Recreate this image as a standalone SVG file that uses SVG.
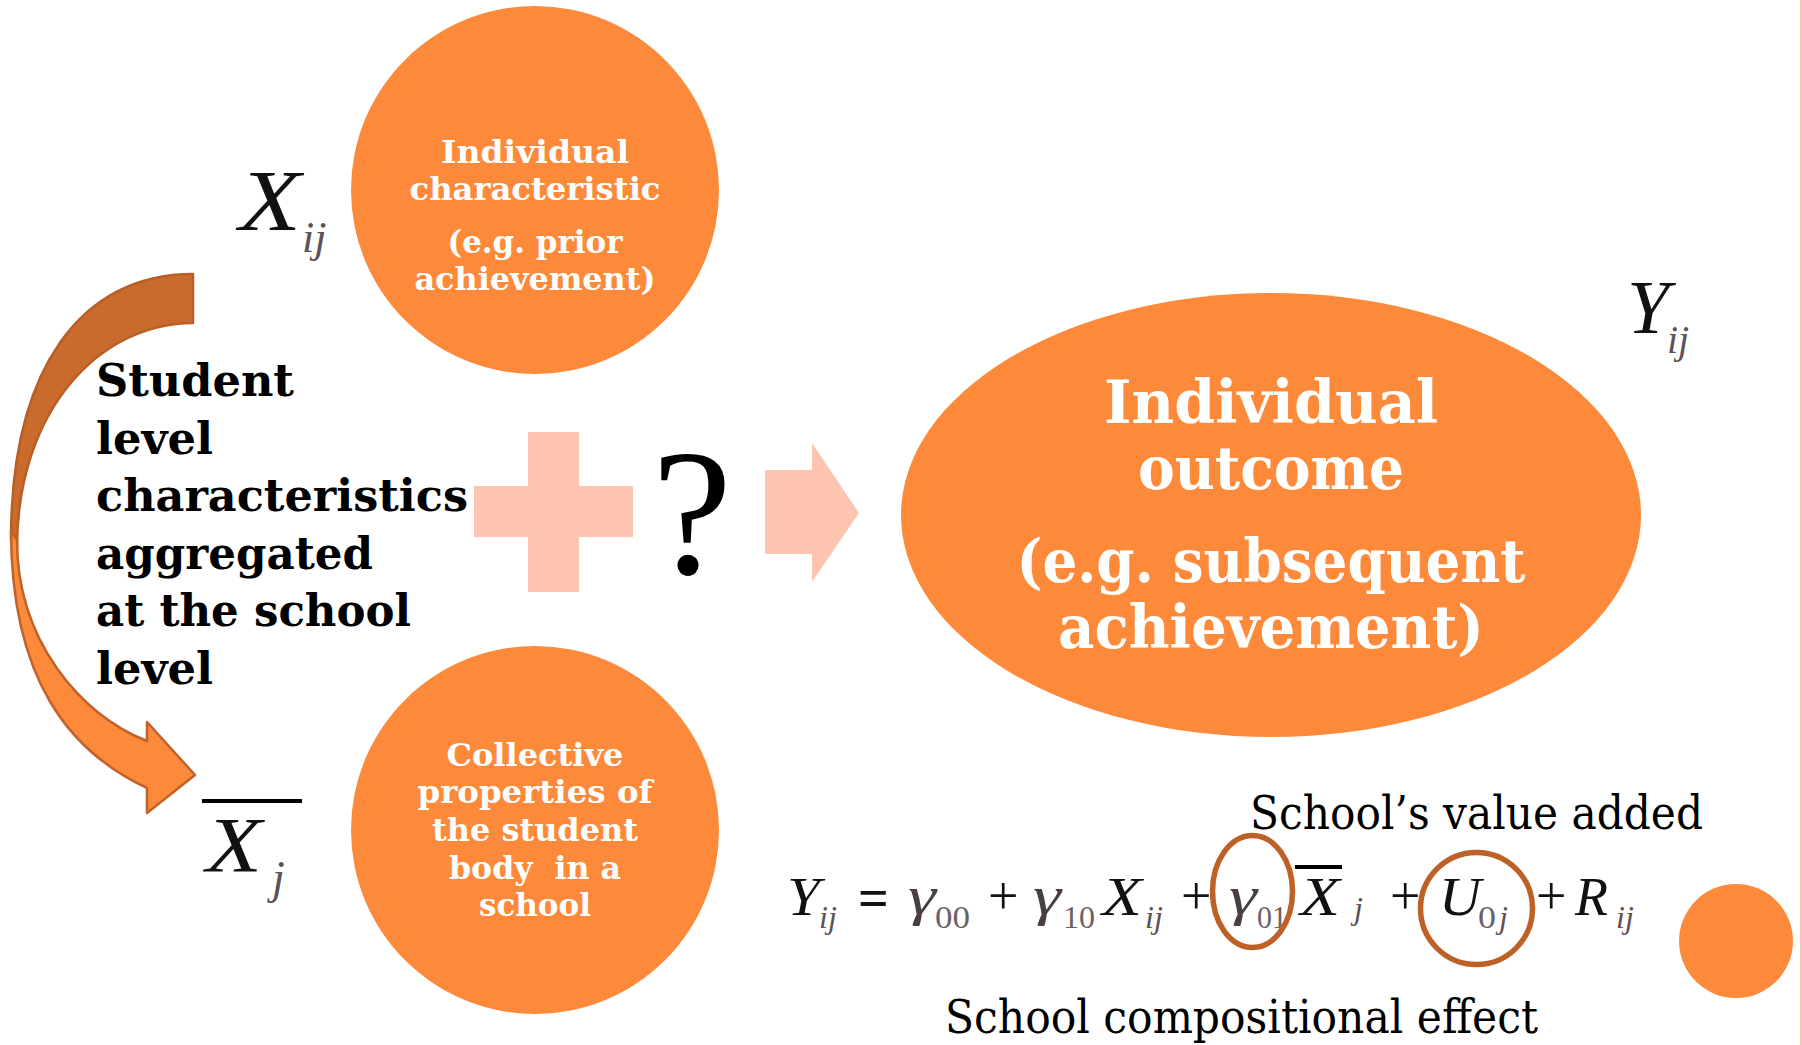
<svg xmlns="http://www.w3.org/2000/svg" width="1802" height="1045" viewBox="0 0 1802 1045">
  <defs>
    <style>
      .node { fill: #FD8A3A; }
      .wt { fill: #FFFFFF; font-family: "DejaVu Serif", "Liberation Serif", serif; font-weight: bold; text-anchor: middle; }
      .lbl { fill: #000000; font-family: "DejaVu Serif", "Liberation Serif", serif; font-weight: bold; font-size: 45px; }
      .cap { fill: #000000; font-family: "DejaVu Serif", "Liberation Serif", serif; font-size: 47px; }
      .m { fill: #111111; font-family: "Liberation Serif", "Times New Roman", serif; font-style: italic; }
      .g { fill: #4a3e46; font-family: "Liberation Serif", "Times New Roman", serif; font-style: italic; font-size: 54px; }
      .sub { fill: #5c5358; font-family: "Liberation Serif", "Times New Roman", serif; font-style: italic; }
      .num { fill: #6a6266; font-family: "Liberation Serif", "Times New Roman", serif; font-size: 32px; }
      .op { fill: #111111; font-family: "Liberation Serif", "Times New Roman", serif; font-size: 54px; }
      .ring { fill: none; stroke: #BD6127; stroke-width: 5.5; }
      .soft { fill: #FDC4AF; }
      .bar { fill: #000000; }
    </style>
  </defs>

  <rect x="0" y="0" width="1802" height="1045" fill="#FFFFFF"/>
  <!-- thin rule along the right edge -->
  <rect x="1800" y="0" width="2" height="1045" fill="#FCC4AE"/>

  <!-- connectors: curved aggregation arrow, plus sign and block arrow -->
  <g id="connectors">
    <path d="M193,274 C80,274 11,370 11,540 L17,548 C17,410 100,323 193,323 Z" fill="#C86B2D" stroke="#B95E24" stroke-width="2.5" stroke-linejoin="round"/>
    <path d="M11,530 C11,680 70,752 147,788 L147,813 L195,775 L147,722 L147,741 C80,715 17,640 17,540 Z" fill="#FD8A3A" stroke="#C0622A" stroke-width="2.5" stroke-linejoin="round"/>
    <path class="soft" d="M528,432 H579 V486 H633 V537 H579 V592 H528 V537 H474 V486 H528 Z"/>
    <path class="soft" d="M765,470 H812 V443 L859,513 L812,582 V554 H765 Z"/>
  </g>

  <!-- individual characteristic -->
  <g id="node-individual-characteristic">
    <circle class="node" cx="535" cy="190" r="184"/>
    <text class="wt" font-size="32" x="535" y="163" textLength="188" lengthAdjust="spacingAndGlyphs">Individual</text>
    <text class="wt" font-size="32" x="535" y="200" textLength="251" lengthAdjust="spacingAndGlyphs">characteristic</text>
    <text class="wt" font-size="32" x="535" y="253" textLength="175" lengthAdjust="spacingAndGlyphs">(e.g. prior</text>
    <text class="wt" font-size="32" x="535" y="290" textLength="241" lengthAdjust="spacingAndGlyphs">achievement)</text>
  </g>

  <!-- collective properties -->
  <g id="node-collective-properties">
    <circle class="node" cx="535" cy="830" r="184"/>
    <text class="wt" font-size="32" x="535" y="766" textLength="177" lengthAdjust="spacingAndGlyphs">Collective</text>
    <text class="wt" font-size="32" x="535" y="803" textLength="235" lengthAdjust="spacingAndGlyphs">properties of</text>
    <text class="wt" font-size="32" x="535" y="841" textLength="206" lengthAdjust="spacingAndGlyphs">the student</text>
    <text class="wt" font-size="32" x="535" y="879" textLength="172" lengthAdjust="spacingAndGlyphs" xml:space="preserve">body  in a</text>
    <text class="wt" font-size="32" x="535" y="916" textLength="112" lengthAdjust="spacingAndGlyphs">school</text>
  </g>

  <!-- individual outcome -->
  <g id="node-individual-outcome">
    <ellipse class="node" cx="1271" cy="515" rx="370" ry="222"/>
    <text class="wt" font-size="60" x="1271" y="423" textLength="334" lengthAdjust="spacingAndGlyphs">Individual</text>
    <text class="wt" font-size="60" x="1271" y="489" textLength="266" lengthAdjust="spacingAndGlyphs">outcome</text>
    <text class="wt" font-size="60" x="1271" y="582" textLength="509" lengthAdjust="spacingAndGlyphs">(e.g. subsequent</text>
    <text class="wt" font-size="60" x="1271" y="648" textLength="426" lengthAdjust="spacingAndGlyphs">achievement)</text>
  </g>

  <!-- aggregation label -->
  <g id="label-student-level">
    <text class="lbl" x="96" y="396" textLength="198" lengthAdjust="spacingAndGlyphs">Student</text>
    <text class="lbl" x="96" y="454" textLength="117" lengthAdjust="spacingAndGlyphs">level</text>
    <text class="lbl" x="96" y="511" textLength="372" lengthAdjust="spacingAndGlyphs">characteristics</text>
    <text class="lbl" x="96" y="569" textLength="277" lengthAdjust="spacingAndGlyphs">aggregated</text>
    <text class="lbl" x="96" y="626" textLength="315" lengthAdjust="spacingAndGlyphs">at the school</text>
    <text class="lbl" x="96" y="684" textLength="117" lengthAdjust="spacingAndGlyphs">level</text>
  </g>

  <!-- question mark -->
  <g id="label-question">
    <text x="692" y="573" font-family="Liberation Serif, Times New Roman, serif" font-size="180" text-anchor="middle" fill="#000000">?</text>
  </g>

  <!-- symbols beside the nodes -->
  <g id="symbol-x-ij">
    <text class="m" x="239" y="230" font-size="86" textLength="62" lengthAdjust="spacingAndGlyphs">X</text>
    <text class="sub" x="302" y="252" font-size="44">ij</text>
  </g>
  <g id="symbol-xbar-j">
    <rect class="bar" x="202" y="799" width="100" height="4"/>
    <text class="m" x="206" y="871" font-size="78" textLength="56" lengthAdjust="spacingAndGlyphs">X</text>
    <text class="sub" x="272" y="893" font-size="46">j</text>
  </g>
  <g id="symbol-y-ij">
    <text class="m" x="1627" y="333" font-size="76">Y</text>
    <text class="sub" x="1667" y="353" font-size="40">ij</text>
  </g>

  <!-- model equation -->
  <g id="equation">
    <text class="m" x="787" y="915" font-size="54" textLength="33" lengthAdjust="spacingAndGlyphs">Y</text>
    <text class="sub" x="819" y="928" font-size="32">ij</text>
    <text class="op" x="858" y="916" font-size="58" font-weight="bold">=</text>
    <text class="g" x="908" y="914" textLength="28" lengthAdjust="spacingAndGlyphs">γ</text>
    <text class="num" x="935" y="928" textLength="35" lengthAdjust="spacingAndGlyphs">00</text>
    <text class="op" x="988" y="914">+</text>
    <text class="g" x="1033" y="914" textLength="28" lengthAdjust="spacingAndGlyphs">γ</text>
    <text class="num" x="1063" y="928" textLength="32" lengthAdjust="spacingAndGlyphs">10</text>
    <text class="m" x="1102" y="915" font-size="54" textLength="40" lengthAdjust="spacingAndGlyphs">X</text>
    <text class="sub" x="1145" y="928" font-size="32">ij</text>
    <text class="op" x="1181" y="914">+</text>
    <text class="g" x="1229" y="914" textLength="28" lengthAdjust="spacingAndGlyphs">γ</text>
    <text class="num" x="1257" y="928" textLength="30" lengthAdjust="spacingAndGlyphs">01</text>
    <rect class="bar" x="1295" y="865" width="47" height="4"/>
    <text class="m" x="1300" y="915" font-size="54" textLength="40" lengthAdjust="spacingAndGlyphs">X</text>
    <text class="sub" x="1354" y="919" font-size="32">j</text>
    <text class="op" x="1390" y="914">+</text>
    <text class="m" x="1439" y="915" font-size="54" textLength="42" lengthAdjust="spacingAndGlyphs">U</text>
    <text class="num" x="1478" y="928" textLength="18" lengthAdjust="spacingAndGlyphs">0</text>
    <text class="sub" x="1499" y="928" font-size="32">j</text>
    <text class="op" x="1536" y="914">+</text>
    <text class="m" x="1575" y="915" font-size="54">R</text>
    <text class="sub" x="1616" y="928" font-size="32">ij</text>
    <ellipse class="ring" cx="1252.5" cy="891.5" rx="40" ry="56"/>
    <ellipse class="ring" cx="1476.5" cy="908.5" rx="56" ry="56"/>
  </g>

  <!-- term captions -->
  <g id="caption-value-added">
    <text class="cap" x="1250" y="829" textLength="453" lengthAdjust="spacingAndGlyphs">School’s value added</text>
  </g>
  <g id="caption-compositional-effect">
    <text class="cap" x="945" y="1033" textLength="593" lengthAdjust="spacingAndGlyphs">School compositional effect</text>
  </g>

  <!-- corner dot -->
  <circle class="node" cx="1736" cy="941" r="57"/>
</svg>
